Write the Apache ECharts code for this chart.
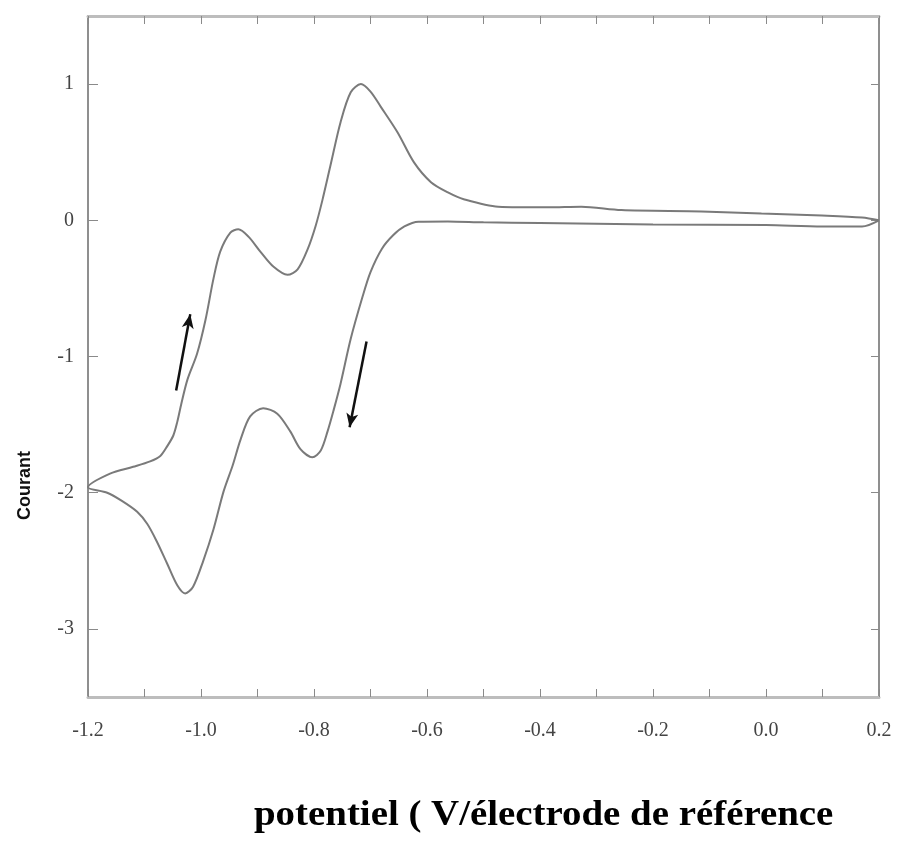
<!DOCTYPE html>
<html>
<head>
<meta charset="utf-8">
<script src="https://cdn.jsdelivr.net/npm/echarts@6/dist/echarts.min.js"></script>
<style>
  html, body { margin: 0; padding: 0; background: #fff; }
  #main { width: 903px; height: 841px; }
</style>
</head>
<body>
<div id="main"></div>
<script>
// cathodic branch, scanned from 0.2 V down to -1.2 V
var cathodicV = [0.2, 0.17, 0.10, 0.0, -0.20, -0.40, -0.50, -0.563, -0.615, -0.64, -0.66, -0.68, -0.70, -0.714,
    -0.735, -0.753, -0.765, -0.776, -0.788, -0.803, -0.824, -0.842, -0.865, -0.89, -0.913, -0.930, -0.944,
    -0.960, -0.978, -0.996, -1.014, -1.028, -1.042, -1.06, -1.078, -1.095, -1.113, -1.14, -1.166, -1.2];
var cathodicI = [0.0, -0.045, -0.045, -0.035, -0.03, -0.02, -0.015, -0.008, -0.01, -0.045, -0.11, -0.21, -0.38, -0.56,
    -0.87, -1.20, -1.39, -1.55, -1.69, -1.74, -1.68, -1.55, -1.42, -1.38, -1.44, -1.61, -1.80,
    -1.99, -2.27, -2.50, -2.69, -2.74, -2.68, -2.52, -2.36, -2.23, -2.14, -2.06, -2.00, -1.96];

// anodic branch, scanned back from -1.2 V to 0.2 V
var anodicV = [-1.2, -1.161, -1.12, -1.09, -1.072, -1.06, -1.049, -1.042, -1.035, -1.024, -1.007, -0.992,
    -0.978, -0.966, -0.948, -0.934, -0.916, -0.895, -0.872, -0.847, -0.829, -0.811, -0.797, -0.785,
    -0.771, -0.753, -0.735, -0.717, -0.70, -0.682, -0.652, -0.623, -0.593, -0.563, -0.535, -0.474,
    -0.386, -0.327, -0.256, -0.114, -0.008, 0.099, 0.17, 0.2];
var anodicI = [-1.96, -1.86, -1.81, -1.77, -1.73, -1.66, -1.58, -1.48, -1.35, -1.17, -0.98, -0.73,
    -0.43, -0.23, -0.09, -0.066, -0.12, -0.23, -0.34, -0.40, -0.36, -0.21, -0.04, 0.15,
    0.40, 0.72, 0.94, 1.0, 0.945, 0.835, 0.645, 0.425, 0.28, 0.205, 0.155, 0.10,
    0.095, 0.10, 0.075, 0.065, 0.05, 0.035, 0.02, 0.0];

// scan direction arrows: [from V, from I, to V, to I]
var arrowUp = [-1.044, -1.25, -1.019, -0.69];
var arrowDown = [-0.707, -0.89, -0.737, -1.52];

var xTicks = [-1.2, -1.0, -0.8, -0.6, -0.4, -0.2, 0.0, 0.2];
var yTicks = [-3, -2, -1, 0, 1];

var loop = [];
for (var i = 0; i < cathodicV.length; i++) loop.push([cathodicV[i], cathodicI[i]]);
for (var j = 1; j < anodicV.length; j++) loop.push([anodicV[j], anodicI[j]]);

var dom = document.getElementById('main');
var myChart = echarts.init(dom, null, { renderer: 'canvas' });

var option = {
    backgroundColor: '#fff',
    animation: false,
    grid: { left: 88, right: 24, top: 16, bottom: 144 },
    xAxis: [
        {
            type: 'value', min: -1.2, max: 0.2, interval: 0.2,
            axisLine: { onZero: false, lineStyle: { color: '#bdbdbd', width: 3 } },
            axisTick: { inside: true, length: 8, lineStyle: { color: '#8a8a8a' } },
            minorTick: { show: true, splitNumber: 2, length: 8, lineStyle: { color: '#8a8a8a' } },
            splitLine: { show: false },
            axisLabel: {
                margin: 24, color: '#444', fontFamily: 'Liberation Serif', fontSize: 20,
                customValues: xTicks,
                formatter: function (v) { return v.toFixed(1); }
            }
        },
        {
            type: 'value', position: 'top', min: -1.2, max: 0.2, interval: 0.1,
            axisLine: { onZero: false, lineStyle: { color: '#bdbdbd', width: 3 } },
            axisTick: { inside: true, length: 8, lineStyle: { color: '#8a8a8a' } },
            splitLine: { show: false },
            axisLabel: { show: false }
        }
    ],
    yAxis: [
        {
            type: 'value', min: -3.5, max: 1.5,
            axisLine: { show: true, onZero: false, lineStyle: { color: '#8f8f8f', width: 2 } },
            axisTick: { show: true, inside: true, length: 10, customValues: yTicks, lineStyle: { color: '#8a8a8a' } },
            splitLine: { show: false },
            axisLabel: {
                margin: 14, color: '#444', fontFamily: 'Liberation Serif', fontSize: 20,
                customValues: yTicks
            }
        },
        {
            type: 'value', position: 'right', min: -3.5, max: 1.5,
            axisLine: { show: true, onZero: false, lineStyle: { color: '#8f8f8f', width: 2 } },
            axisTick: { show: true, inside: true, length: 8, customValues: yTicks, lineStyle: { color: '#8a8a8a' } },
            splitLine: { show: false },
            axisLabel: { show: false }
        }
    ],
    graphic: [
        {
            type: 'text', x: 16, y: 520, rotation: Math.PI / 2,
            style: { text: 'Courant', font: 'bold 18px "Liberation Sans"', fill: '#111' }
        },
        {
            type: 'text', x: 254, y: 798, scaleX: 1.08,
            style: { text: 'potentiel ( V/électrode de référence', font: 'bold 36px "Liberation Serif"', fill: '#000' }
        }
    ],
    series: [
        {
            type: 'line',
            data: loop,
            smooth: 0.3,
            showSymbol: false,
            lineStyle: { color: '#7a7a7a', width: 2 },
            markLine: {
                silent: true,
                symbol: ['none', 'arrow'],
                symbolSize: [9, 14],
                label: { show: false },
                lineStyle: { color: '#111', width: 2.5, type: 'solid' },
                data: [
                    [{ coord: [arrowUp[0], arrowUp[1]] }, { coord: [arrowUp[2], arrowUp[3]] }],
                    [{ coord: [arrowDown[0], arrowDown[1]] }, { coord: [arrowDown[2], arrowDown[3]] }]
                ]
            }
        }
    ]
};

if (option && typeof option === 'object') {
    myChart.setOption(option);
}

window.addEventListener('resize', myChart.resize);
</script>
</body>
</html>
